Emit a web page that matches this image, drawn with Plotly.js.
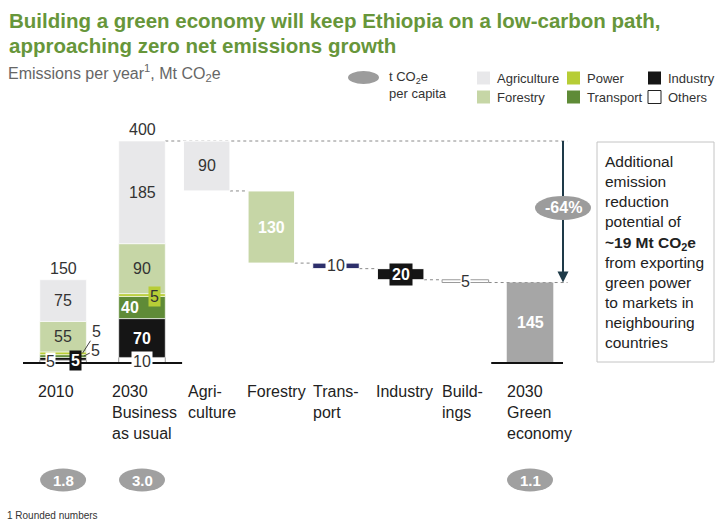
<!DOCTYPE html>
<html><head><meta charset="utf-8">
<script src="https://cdn.plot.ly/plotly-3.0.1.min.js"></script>
<style>html,body{margin:0;padding:0;background:#fff;}#chart{width:715px;height:520px;}</style>
</head><body><div id="chart"></div>
<script>
// ---------------- data ----------------
const categories = ['2010','2030 Business as usual','Agriculture','Forestry','Transport','Industry','Buildings','2030 Green economy'];
const categoryLabels = ['2010','2030<br>Business<br>as usual','Agri-<br>culture','Forestry','Trans-<br>port','Industry','Build-<br>ings','2030<br>Green<br>economy'];
const sectors = ['Others','Industry','Transport','Power','Forestry','Agriculture'];
const values2010 = [5,5,5,5,55,75];
const valuesBAU = [10,70,40,5,90,185];
const leverNames = ['Agriculture','Forestry','Transport','Industry','Buildings'];
const leverValues = [90,130,10,20,5];
const greenTotal = 145;
const perCapita = ['1.8','3.0','1.1'];
const reductionLabel = '-64%';
const legendItems = ['Agriculture','Power','Industry','Forestry','Transport','Others'];

// ---------------- styling / layout helpers ----------------
const W = 715, H = 520;
const P = px => px / W;           // paper x from pixel
const Q = py => 1 - py / H;       // paper y from pixel
const FONT = 'Arial, "Liberation Sans", sans-serif';
const sectorColors = {Others:'#ffffff', Industry:'#151515', Transport:'#5f8b37', Power:'#b7cd36', Forestry:'#c6d6a6', Agriculture:'#e8e8ea'};
const leverColors = {Agriculture:'#e8e8ea', Forestry:'#c6d6a6', Transport:'#2d2f6b', Industry:'#151515', Buildings:'#ffffff'};
const greenColor = '#a6a6a6';
const bw = 0.72;
const xs = categories.map((c,i) => i === 0 ? -0.22 : i);
const labelShift = [-0.42, -0.49, -0.32, -0.4, -0.39, -0.41, -0.39, -0.39];
const arrowX = xs[7] + 0.51;
const pxPerUnitY = 0.555, baseY = 363;
const VY = py => (baseY - py) / pxPerUnitY;   // data y from pixel row (for decorations)

// cumulative bases
function cum(arr){ const out=[]; let s=0; arr.forEach(v=>{out.push(s); s+=v;}); return out; }
const base2010 = cum(values2010), baseBAU = cum(valuesBAU);
const total2010 = values2010.reduce((a,b)=>a+b,0);
const totalBAU = valuesBAU.reduce((a,b)=>a+b,0);
const leverBase = []; let running = totalBAU;
leverValues.forEach(v => { running -= v; leverBase.push(running); });

const traces = [];
sectors.forEach((s,k) => {
  traces.push({
    type:'bar', x:[xs[0], xs[1]], y:[values2010[k], valuesBAU[k]], base:[base2010[k], baseBAU[k]],
    width:bw, name:s, hoverinfo:'skip',
    marker:{color:sectorColors[s], line:{color: s==='Others' ? '#9a9a9a' : '#ffffff', width: s==='Others'?1:0.6}}
  });
});
traces.push({
  type:'bar', x:xs.slice(2,7), y:leverValues, base:leverBase, width:bw, hoverinfo:'skip',
  marker:{color:leverNames.map(n=>leverColors[n]), line:{color:leverNames.map(n=>n==='Buildings'?'#9a9a9a':'#ffffff'), width:1}}
});
traces.push({
  type:'bar', x:[xs[7]], y:[greenTotal], base:[0], width:bw, hoverinfo:'skip',
  marker:{color:greenColor, line:{width:0}}
});

const ann = [];
const txt = (o) => Object.assign({showarrow:false, font:{family:FONT, size:16, color:'#333'}}, o);

// title and subtitle
ann.push(txt({xref:'paper', yref:'paper', x:P(7), y:Q(21), xanchor:'left', yanchor:'middle',
  text:'<b>Building a green economy will keep Ethiopia on a low-carbon path,</b>', font:{family:FONT, size:20.5, color:'#67963a'}}));
ann.push(txt({xref:'paper', yref:'paper', x:P(7), y:Q(45), xanchor:'left', yanchor:'middle',
  text:'<b>approaching zero net emissions growth</b>', font:{family:FONT, size:20.5, color:'#67963a'}}));
ann.push(txt({xref:'paper', yref:'paper', x:P(6), y:Q(73), xanchor:'left', yanchor:'middle',
  text:'Emissions per year<sup>1</sup>, Mt CO<sub>2</sub>e', font:{family:FONT, size:16, color:'#666'}}));
ann.push(txt({xref:'paper', yref:'paper', x:P(5), y:Q(515), xanchor:'left', yanchor:'middle',
  text:'1 Rounded numbers', font:{family:FONT, size:10, color:'#333'}}));

// legend
const shapes = [];
shapes.push({type:'circle', xref:'paper', yref:'paper', x0:P(348), x1:P(379), y0:Q(71), y1:Q(84), fillcolor:'#9c9c9c', line:{width:0}});
ann.push(txt({xref:'paper', yref:'paper', x:P(387), y:Q(85), xanchor:'left', yanchor:'middle', align:'left',
  text:'t CO<sub>2</sub>e<br>per capita', font:{family:FONT, size:13, color:'#333'}}));
const legX = [477, 567, 648], legY = [78, 97];
const legColors = {Agriculture:'#e8e8ea', Power:sectorColors.Power, Industry:sectorColors.Industry, Forestry:sectorColors.Forestry, Transport:sectorColors.Transport, Others:'#ffffff'};
legendItems.forEach((name,i) => {
  const cx = legX[i%3], cy = legY[Math.floor(i/3)];
  shapes.push({type:'rect', xref:'paper', yref:'paper', x0:P(cx), x1:P(cx+13), y0:Q(cy-6.5), y1:Q(cy+6.5),
    fillcolor:legColors[name], line:{color: name==='Others' ? '#222' : legColors[name], width: name==='Others'?1:0}});
  ann.push(txt({xref:'paper', yref:'paper', x:P(cx+18), y:Q(cy), xanchor:'left', yanchor:'middle', text:name,
    font:{family:FONT, size:13, color:'#333'}}));
});

// category labels
categoryLabels.forEach((lab,i) => {
  ann.push(txt({x:xs[i]+labelShift[i], y:VY(381), xref:'x', yref:'y', xanchor:'left', yanchor:'top', align:'left', text:lab,
    font:{family:FONT, size:16, color:'#222'}}));
});

// totals above stacked bars
[[xs[0], total2010],[xs[1], totalBAU]].forEach(([x,t]) => {
  ann.push(txt({x:x, y:t, xref:'x', yref:'y', yanchor:'bottom', yshift:1, text:String(t)}));
});

// 2010 segment labels
const mid = (b,v) => b + v/2;
ann.push(txt({x:xs[0], y:mid(base2010[5],values2010[5]), text:String(values2010[5])}));
ann.push(txt({x:xs[0], y:mid(base2010[4],values2010[4]), text:String(values2010[4])}));
ann.push(txt({x:xs[0]-0.19, y:mid(base2010[0],values2010[0]), text:String(values2010[0]), bgcolor:'#ffffff', borderpad:0}));
ann.push(txt({x:xs[0]+0.19, y:mid(base2010[1],values2010[1]), yshift:-2, text:'<b>'+values2010[1]+'</b>', bgcolor:'#111', borderpad:1,
  font:{family:FONT, size:16, color:'#fff'}}));
// power and transport with leader lines
ann.push(txt({x:xs[0]+0.3, y:mid(base2010[3],values2010[3]), text:String(values2010[3]), showarrow:true, arrowhead:0, arrowwidth:1, arrowcolor:'#444',
  ax:14, ay:-22, standoff:0}));
ann.push(txt({x:xs[0]+0.32, y:mid(base2010[2],values2010[2]), text:String(values2010[2]), showarrow:true, arrowhead:0, arrowwidth:1, arrowcolor:'#444',
  ax:12, ay:-6, standoff:0}));

// BAU segment labels
ann.push(txt({x:xs[1], y:mid(baseBAU[5],valuesBAU[5]), text:String(valuesBAU[5])}));
ann.push(txt({x:xs[1], y:mid(baseBAU[4],valuesBAU[4]), text:String(valuesBAU[4])}));
ann.push(txt({x:xs[1]+0.2, y:mid(baseBAU[3],valuesBAU[3]), yshift:-1, text:String(valuesBAU[3]), bgcolor:sectorColors.Power, borderpad:1,
  font:{family:FONT, size:16, color:'#333'}}));
ann.push(txt({x:xs[1]-0.35, y:mid(baseBAU[2],valuesBAU[2]), xanchor:'left', text:'<b>'+valuesBAU[2]+'</b>', font:{family:FONT, size:16, color:'#fff'}}));
ann.push(txt({x:xs[1], y:mid(baseBAU[1],valuesBAU[1]), text:'<b>'+valuesBAU[1]+'</b>', font:{family:FONT, size:16, color:'#fff'}}));
ann.push(txt({x:xs[1], y:mid(baseBAU[0],valuesBAU[0]), yshift:-1, text:String(valuesBAU[0]), bgcolor:'#fff', borderpad:1}));

// lever labels
leverNames.forEach((n,i) => {
  const x = xs[i+2], y = mid(leverBase[i], leverValues[i]);
  let o = {x:x, y:y, text:String(leverValues[i])};
  if (n==='Forestry') o = Object.assign(o, {text:'<b>'+leverValues[i]+'</b>', font:{family:FONT, size:16, color:'#fff'}});
  if (n==='Transport') o = Object.assign(o, {bgcolor:'#fff', borderpad:1});
  if (n==='Industry') o = Object.assign(o, {text:'<b>'+leverValues[i]+'</b>', bgcolor:'#151515', borderpad:2, font:{family:FONT, size:16, color:'#fff'}});
  if (n==='Buildings') o = Object.assign(o, {bgcolor:'#fff', borderpad:0});
  ann.push(txt(o));
});
ann.push(txt({x:xs[7], y:greenTotal/2, text:'<b>'+greenTotal+'</b>', font:{family:FONT, size:16, color:'#fff'}}));

// connectors (dotted)
const dot = {color:'#8a8a8a', width:1, dash:'dot'};
shapes.push({type:'line', layer:'below', xref:'x', yref:'y', x0:xs[1]+bw/2, x1:arrowX+0.07, y0:totalBAU, y1:totalBAU, line:dot});
leverBase.forEach((b,i) => {
  const x0 = xs[i+2]+bw/2, x1 = (i<4 ? xs[i+3]-bw/2 : arrowX+0.07);
  shapes.push({type:'line', layer:'below', xref:'x', yref:'y', x0:x0, x1:x1, y0:b, y1:b, line:dot});
});

// baselines
shapes.push({type:'line', xref:'x', yref:'y', x0:xs[0]-0.62, x1:xs[1]+0.62, y0:0, y1:0, line:{color:'#111', width:2}});
shapes.push({type:'line', xref:'x', yref:'y', x0:xs[6]+0.4, x1:arrowX, y0:0, y1:0, line:{color:'#111', width:2}});

// reduction arrow
shapes.push({type:'line', xref:'x', yref:'y', x0:arrowX, x1:arrowX, y0:totalBAU, y1:greenTotal+8, line:{color:'#1e3a48', width:2}});
ann.push({x:arrowX, y:greenTotal, xref:'x', yref:'y', ax:0, ay:-22, text:'', showarrow:true, arrowhead:2, arrowsize:1.1, arrowwidth:2, arrowcolor:'#1e3a48', standoff:0});
const pctY = (totalBAU + greenTotal)/2 + 7;
shapes.push({type:'circle', xref:'x', yref:'y', xsizemode:'pixel', ysizemode:'pixel', xanchor:arrowX, yanchor:pctY,
  x0:-28, x1:28, y0:-12, y1:12, fillcolor:'#9c9c9c', line:{width:0}});
ann.push(txt({x:arrowX, y:pctY, text:'<b>'+reductionLabel+'</b>', font:{family:FONT, size:16, color:'#fff'}}));

// per-capita ellipses
const capY = VY(480);
[0,1,7].forEach((ci,j) => {
  shapes.push({type:'circle', xref:'x', yref:'y', xsizemode:'pixel', ysizemode:'pixel', xanchor:xs[ci], yanchor:capY,
    x0:-23, x1:23, y0:-11.5, y1:11.5, fillcolor:'#a0a0a0', line:{width:0}});
  ann.push(txt({x:xs[ci], y:capY, xref:'x', yref:'y', yanchor:'middle', text:'<b>'+perCapita[j]+'</b>', font:{family:FONT, size:15, color:'#fff'}}));
});

// side box
shapes.push({type:'rect', xref:'paper', yref:'paper', x0:P(597), x1:P(714), y0:Q(142), y1:Q(362), line:{color:'#c4c4c4', width:1}, fillcolor:'rgba(0,0,0,0)'});
ann.push(txt({xref:'paper', yref:'paper', x:P(603), y:Q(252), xanchor:'left', yanchor:'middle', align:'left',
  text:'Additional<br>emission<br>reduction<br>potential of<br><b>~19 Mt CO<sub>2</sub>e</b><br>from exporting<br>green power<br>to markets in<br>neighbouring<br>countries',
  font:{family:FONT, size:15.5, color:'#222'}}));

const layout = {
  width:W, height:H, margin:{l:0,r:0,t:0,b:0}, paper_bgcolor:'#fff', plot_bgcolor:'#fff',
  barmode:'overlay', showlegend:false, hovermode:false,
  xaxis:{visible:false, range:[1-142/64.67, 1+(W-142)/64.67], fixedrange:true},
  yaxis:{visible:false, range:[-(H-baseY)/pxPerUnitY, baseY/pxPerUnitY], fixedrange:true},
  annotations:ann, shapes:shapes, font:{family:FONT}
};
Plotly.newPlot('chart', traces, layout, {staticPlot:true, displayModeBar:false});
</script>
</body></html>
